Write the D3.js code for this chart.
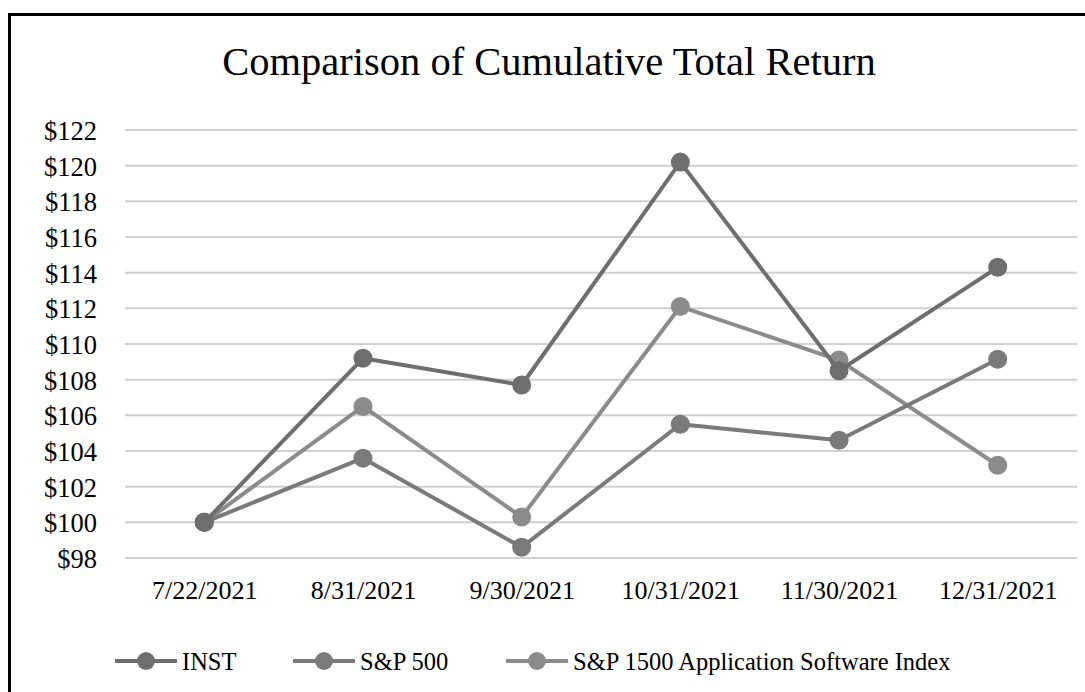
<!DOCTYPE html>
<html><head><meta charset="utf-8">
<script src="https://cdn.jsdelivr.net/npm/d3@7"></script>
<style>body{margin:0;background:#fff}svg{display:block}</style>
</head><body>
<svg id="c" width="1085" height="692"></svg>
<script>
const categories = ["7/22/2021","8/31/2021","9/30/2021","10/31/2021","11/30/2021","12/31/2021"];
const seriesNames = ["INST","S&P 500","S&P 1500 Application Software Index"];
const inst = [100, 109.2, 107.7, 120.2, 108.5, 114.3];
const sp500 = [100, 103.6, 98.6, 105.5, 104.6, 109.15];
const sp1500 = [100, 106.5, 100.3, 112.1, 109.1, 103.2];
const yTicks = [98,100,102,104,106,108,110,112,114,116,118,120,122];
const colors = ["#6e6e6e","#7a7a7a","#8b8b8b"];
const FONT = "Liberation Serif";

const svg = d3.select("#c");
svg.append("rect").attr("x",0).attr("y",0).attr("width",1085).attr("height",692).attr("fill","#fff");
svg.append("rect").attr("x",9.5).attr("y",14.5).attr("width",1200).attr("height",800)
  .attr("fill","none").attr("stroke","#000").attr("stroke-width",3);

const x = d3.scalePoint().domain(categories).range([125+79.3, 1077-79.3]);
const y = d3.scaleLinear().domain([98,122]).range([558,130]);

svg.append("text").attr("x",549).attr("y",75).attr("text-anchor","middle")
  .attr("font-family",FONT).attr("font-size",40.5).attr("fill","#000").text("Comparison of Cumulative Total Return");

svg.append("g").selectAll("line").data(yTicks).join("line")
  .attr("x1",125).attr("x2",1077).attr("y1",d=>y(d)).attr("y2",d=>y(d))
  .attr("stroke","#d0d0d0").attr("stroke-width",2);

const yAxis = d3.axisLeft(y).tickValues(yTicks).tickFormat(d=>"$"+d).tickSize(0).tickPadding(0);
const gy = svg.append("g").attr("transform","translate(97,1)").call(yAxis);
gy.select(".domain").remove();
gy.attr("font-family",FONT).attr("font-size",26.5);
gy.selectAll("text").attr("fill","#000");

const xAxis = d3.axisBottom(x).tickSize(0).tickPadding(0);
const gx = svg.append("g").attr("transform","translate(0,581)").call(xAxis);
gx.select(".domain").remove();
gx.attr("font-family",FONT).attr("font-size",26);
gx.selectAll("text").attr("fill","#000");

const data = [inst, sp500, sp1500];
const line = d3.line().x((d,i)=>x(categories[i])).y(d=>y(d));
[2,1,0].forEach(k=>{
  const g = svg.append("g");
  g.append("path").attr("d",line(data[k])).attr("fill","none").attr("stroke",colors[k]).attr("stroke-width",4).attr("stroke-linejoin","round");
  g.selectAll("circle").data(data[k]).join("circle")
    .attr("cx",(d,i)=>x(categories[i])).attr("cy",d=>y(d)).attr("r",9.5).attr("fill",colors[k]);
});

const legX = [115, 293, 506];
const leg = svg.append("g");
seriesNames.forEach((n,k)=>{
  const lx = legX[k];
  leg.append("line").attr("x1",lx).attr("x2",lx+62).attr("y1",661).attr("y2",661).attr("stroke",colors[k]).attr("stroke-width",4);
  leg.append("circle").attr("cx",lx+31).attr("cy",661).attr("r",9).attr("fill",colors[k]);
  leg.append("text").attr("x",lx+67).attr("y",670).attr("font-family",FONT).attr("font-size",24.5).attr("fill","#000").text(n);
});
</script>
</body></html>
